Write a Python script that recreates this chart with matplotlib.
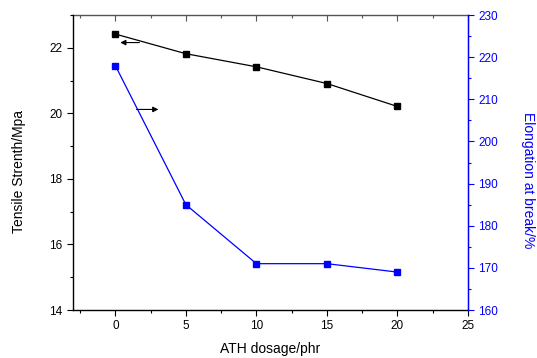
import matplotlib
matplotlib.use("Agg")
import matplotlib.pyplot as plt
from matplotlib.ticker import MultipleLocator

plt.rcParams['font.family'] = ['Liberation Sans', 'DejaVu Sans']

dosage = [0, 5, 10, 15, 20]
tensile = [22.42, 21.82, 21.42, 20.91, 20.21]
elongation = [218, 185, 171, 171, 169]

fig = plt.figure(figsize=(5.37, 3.58), dpi=100)
ax = fig.add_axes([0.136, 0.134, 0.7355, 0.824])
ax2 = ax.twinx()

ax.plot(dosage, tensile, color='black', lw=0.9, marker='s', ms=4.5, zorder=3)
ax2.plot(dosage, elongation, color='#0000ff', lw=0.9, marker='s', ms=4.5, zorder=3)

ax.set_xlim(-3, 25)
ax.set_ylim(14, 23)
ax2.set_ylim(160, 230)

ax.xaxis.set_major_locator(MultipleLocator(5))
ax.xaxis.set_minor_locator(MultipleLocator(2.5))
ax.yaxis.set_major_locator(MultipleLocator(2))
ax.yaxis.set_minor_locator(MultipleLocator(1))
ax2.yaxis.set_major_locator(MultipleLocator(10))
ax2.yaxis.set_minor_locator(MultipleLocator(5))

ax.tick_params(axis='both', which='major', labelsize=8.5, length=4, width=0.8, direction='out')
ax.tick_params(axis='both', which='minor', length=2.5, width=0.8, direction='out')
ax2.tick_params(axis='y', which='major', labelsize=8.5, length=4, width=0.8, colors='#0000ff', direction='out')
ax2.tick_params(axis='y', which='minor', length=2.5, width=0.8, colors='#0000ff', direction='out')

# top axis: inward ticks, no labels
top = ax.secondary_xaxis('top')
top.xaxis.set_major_locator(MultipleLocator(5))
top.xaxis.set_minor_locator(MultipleLocator(2.5))
top.tick_params(which='major', direction='in', length=4, width=0.8, labeltop=False, colors='#555555')
top.tick_params(which='minor', direction='in', length=2.5, width=0.8, colors='#555555')
top.spines['top'].set_color('#555555')
top.spines['top'].set_linewidth(1.0)

for s in ['left', 'bottom']:
    ax.spines[s].set_linewidth(1.0)
    ax.spines[s].set_color('black')
ax.spines['top'].set_visible(False)
ax2.spines['right'].set_color('#0000ff')
ax2.spines['right'].set_linewidth(1.0)
ax2.spines['left'].set_visible(False)
ax2.spines['top'].set_visible(False)
ax2.spines['bottom'].set_visible(False)

ax.set_xlabel('ATH dosage/phr', fontsize=10, labelpad=7)
ax.set_ylabel('Tensile Strenth/Mpa', fontsize=10, va='center')
ax.yaxis.set_label_coords(-0.137, 0.471)
ax2.set_ylabel('Elongation at break/%', fontsize=10, color='#0000ff', rotation=270)
ax2.yaxis.label.set_va('center')
ax2.yaxis.label.set_ha('center')
ax2.yaxis.set_label_coords(1.152, 0.441)

ax.annotate('', xy=(0.15, 22.16), xytext=(1.9, 22.16),
            arrowprops=dict(arrowstyle='-|>', color='black', lw=0.8, mutation_scale=8))
ax.annotate('', xy=(3.25, 20.12), xytext=(1.3, 20.12),
            arrowprops=dict(arrowstyle='-|>', color='black', lw=0.8, mutation_scale=8))

fig.savefig('out.png', dpi=100)
